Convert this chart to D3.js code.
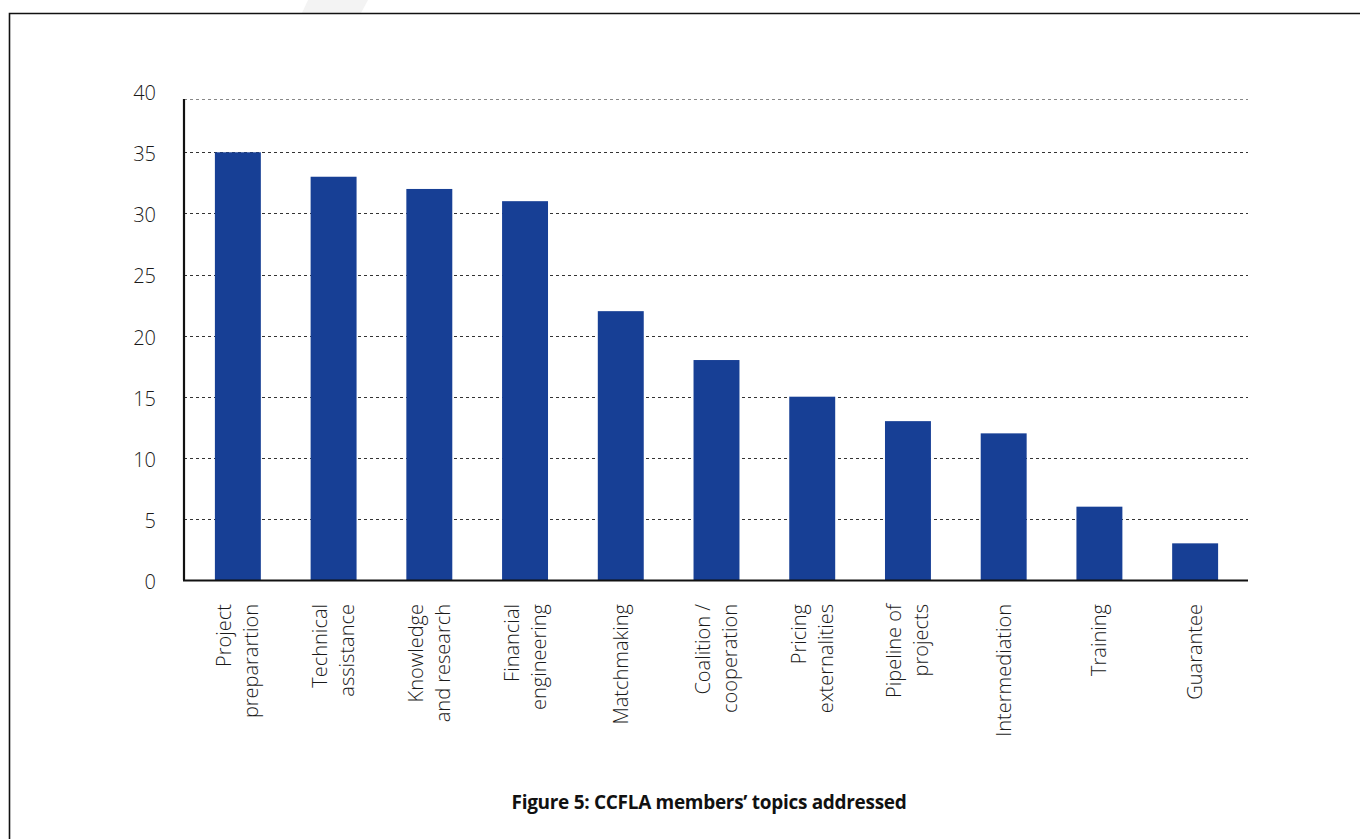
<!DOCTYPE html>
<html>
<head>
<meta charset="utf-8">
<script src="https://cdn.jsdelivr.net/npm/d3@7"></script>
<style>
  body { margin: 0; background: #fff; }
  svg { display: block; }
</style>
</head>
<body>
<svg id="chart" width="1360" height="839"></svg>
<script>
var svg = d3.select("#chart");

var width = +svg.attr("width");
var height = +svg.attr("height");

// chart data
var topics = [
  ["Project", "preparartion"],
  ["Technical", "assistance"],
  ["Knowledge", "and research"],
  ["Financial", "engineering"],
  ["Matchmaking"],
  ["Coalition /", "cooperation"],
  ["Pricing", "externalities"],
  ["Pipeline of", "projects"],
  ["Intermediation"],
  ["Training"],
  ["Guarantee"]
];
var counts = [35, 33, 32, 31, 22, 18, 15, 13, 12, 6, 3];
var yTicks = [0, 5, 10, 15, 20, 25, 30, 35, 40];
var title = "Figure 5: CCFLA members\u2019 topics addressed";

var barColor = "#173f95";

// frame around the figure
svg.append("polygon")
  .attr("points", "308,0 368,0 361,13 302,13")
  .style("fill", "#f3f3f3");

svg.append("path")
  .attr("d", "M9.5," + height + "V13.5H" + width)
  .style("fill", "none")
  .style("stroke", "#111")
  .style("stroke-width", 1.6);

var plotTop = 99;

var xScale = d3.scaleBand()
  .domain(d3.range(topics.length))
  .range([190, 1243])
  .paddingInner(0.52)
  .paddingOuter(0.26);

var yScale = d3.scaleLinear()
  .domain([0, 40])
  .range([580, 91.2]);

// dotted gridlines
svg.append("g")
  .selectAll("line")
  .data(yTicks.filter(function (d) { return d > 0 && d < 40; }))
  .join("line")
  .attr("x1", 184)
  .attr("x2", 1248)
  .attr("y1", function (d) { return Math.round(yScale(d)) + 0.5; })
  .attr("y2", function (d) { return Math.round(yScale(d)) + 0.5; })
  .style("stroke", "#333")
  .style("stroke-width", 1)
  .style("stroke-dasharray", "3,3");

// top edge of plot area (lighter dotted line)
svg.append("line")
  .attr("x1", 184)
  .attr("x2", 1248)
  .attr("y1", plotTop + 0.5)
  .attr("y2", plotTop + 0.5)
  .style("stroke", "#888")
  .style("stroke-width", 1)
  .style("stroke-dasharray", "3,3");

// bars
svg.append("g")
  .selectAll("rect")
  .data(counts)
  .join("rect")
  .attr("x", function (d, i) { return xScale(i); })
  .attr("y", function (d) { return yScale(d); })
  .attr("width", xScale.bandwidth())
  .attr("height", function (d) { return yScale(0) - yScale(d); })
  .style("fill", barColor);

// y axis
var leftAxis = d3.axisLeft(yScale).tickValues(yTicks).tickSize(0).tickPadding(28);
var yAxisG = svg.append("g")
  .attr("transform", "translate(184,0)")
  .call(leftAxis);
yAxisG.select(".domain").remove();
yAxisG.append("line")
  .attr("y1", plotTop)
  .attr("y2", 580)
  .style("stroke", "#111")
  .style("stroke-width", 2.2);
yAxisG.selectAll("text")
  .style("font-family", "'Open Sans', sans-serif")
  .style("font-weight", 300)
  .style("font-size", "20px")
  .style("fill", "#1a1a1a")
  .attr("dy", "0.42em");

// x axis baseline
svg.append("line")
  .attr("x1", 183)
  .attr("x2", 1248)
  .attr("y1", 580.5)
  .attr("y2", 580.5)
  .style("stroke", "#111")
  .style("stroke-width", 2.2);

// rotated category labels
var labels = svg.append("g")
  .selectAll("text")
  .data(topics)
  .join("text")
  .attr("transform", function (d, i) {
    var cx = xScale(i) + xScale.bandwidth() / 2;
    return "translate(" + cx + ",604)rotate(-90)";
  })
  .attr("text-anchor", "end")
  .style("font-family", "'Open Sans', sans-serif")
  .style("font-weight", 300)
  .style("font-size", "20px")
  .style("fill", "#1a1a1a");

labels.each(function (d) {
  var t = d3.select(this);
  var lineH = 27;
  var start = -(d.length - 1) * lineH / 2;
  d.forEach(function (line, k) {
    t.append("tspan")
      .attr("x", 0)
      .attr("y", start + k * lineH)
      .attr("dy", "0.35em")
      .text(line);
  });
});

// title
svg.append("text")
  .attr("x", 709)
  .attr("y", 809)
  .attr("text-anchor", "middle")
  .style("font-family", "'Open Sans', sans-serif")
  .style("font-weight", 700)
  .style("font-size", "19px")
  .style("letter-spacing", "-0.3px")
  .style("fill", "#111")
  .text(title);
</script>
</body>
</html>
